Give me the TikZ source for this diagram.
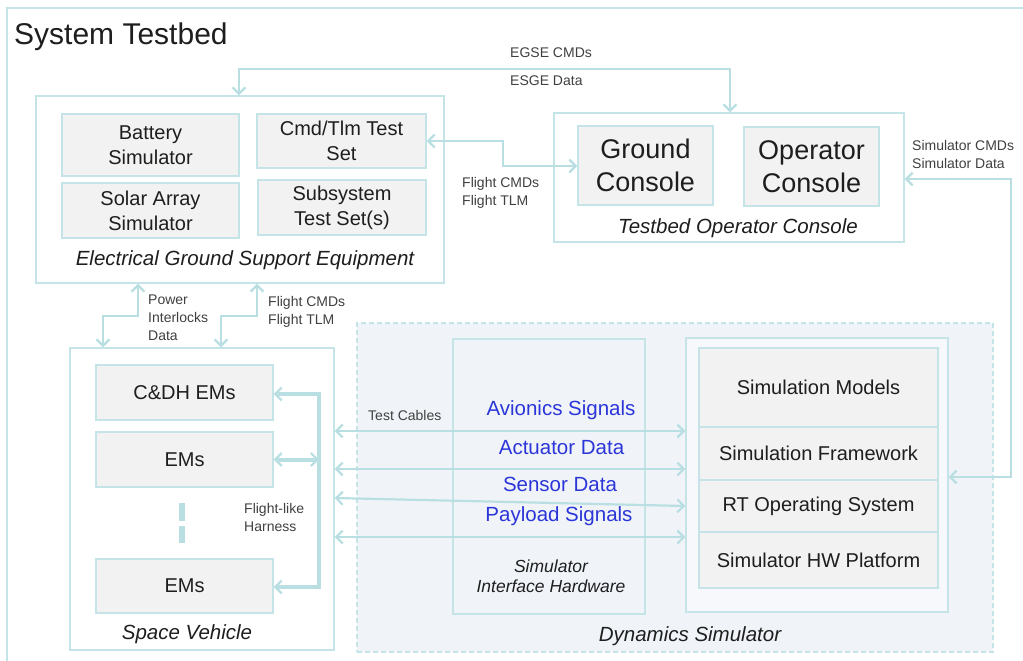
\documentclass[tikz,border=0pt]{standalone}
\usepackage{fontspec}
\setmainfont{Liberation Sans}
\usetikzlibrary{arrows.meta}
\definecolor{edge}{HTML}{C4E4E7}
\definecolor{wire}{HTML}{B9DFE2}
\definecolor{cellfill}{HTML}{F2F2F2}
\definecolor{dynfill}{HTML}{F0F4F9}
\definecolor{sigblue}{HTML}{2B35D8}
\definecolor{ink}{HTML}{1E1E1E}
\tikzset{
  barb/.tip={Straight Barb[length=6.5pt,width=13pt,line width=2.2pt]},
  group/.style={draw=edge,line width=1.3pt,fill=white,inner sep=0pt},
  cell/.style={draw=edge,line width=1.3pt,fill=cellfill,inner sep=0pt,align=center,
    font=\fontsize{20}{25}\selectfont,text=ink},
  bigcell/.style={cell,font=\fontsize{27}{33}\selectfont},
  stackcell/.style={cell,minimum width=239pt},
  caption/.style={font=\fontsize{20.5}{24}\selectfont\itshape,text=ink},
  note/.style={font=\fontsize{14}{18}\selectfont,text=ink!85,align=left,anchor=west,inner sep=0pt},
  signal/.style={font=\fontsize{20.5}{24}\selectfont,text=sigblue,inner sep=0pt},
  link/.style={draw=wire,line width=2.2pt,barb-barb},
  harness/.style={draw=wire,line width=4pt},
  harnessshade/.style={draw=black,opacity=0.10,line width=4.5pt,shift={(1.5,1.8)}},
}
\begin{document}
\begin{tikzpicture}[x=1pt,y=-1pt]
\useasboundingbox (0,0) rectangle (1023,661);
\fill[white] (0,0) rectangle (1023,661);

% outer testbed frame
\draw[edge,line width=1.3pt] (1040,8) -- (7,8) -- (7,680);
\node[anchor=base west,inner sep=0pt,font=\fontsize{30}{35}\selectfont,text=ink] (title) at (14,45) {System Testbed};

% electrical ground support equipment
\node[group,minimum width=408pt,minimum height=187pt] (egse) at (240,189.5) {};
\node[cell,minimum width=177pt,minimum height=62pt] (bat) at (150.5,145) {Battery\\Simulator};
\node[cell,minimum width=177pt,minimum height=55pt] (solar) at (150.5,210.5) {Solar Array\\Simulator};
\node[cell,minimum width=169pt,minimum height=54pt] (cmd) at (341.5,141) {Cmd/Tlm Test\\Set};
\node[cell,minimum width=168pt,minimum height=55pt] (subs) at (342,207.5) {Subsystem\\Test Set(s)};
\node[caption] (egsecap) at (245,260) {Electrical Ground Support Equipment};

% testbed operator console
\node[group,minimum width=350pt,minimum height=129pt] (toc) at (729,177.5) {};
\node[bigcell,minimum width=135pt,minimum height=79pt] (ground) at (645.5,165.5) {Ground\\Console};
\node[bigcell,minimum width=135pt,minimum height=79pt] (oper) at (811.5,166.5) {Operator\\Console};
\node[caption] (toccap) at (738,228) {Testbed Operator Console};

% dynamics simulator
\node[draw=edge,line width=1.3pt,dash pattern=on 5pt off 3pt,fill=dynfill,minimum width=636pt,minimum height=329pt,inner sep=0pt] (dyn) at (675,487.5) {};
\node[caption] (dyncap) at (690,636) {Dynamics Simulator};
\node[draw=edge,line width=1.3pt,fill=dynfill,minimum width=192pt,minimum height=275pt,inner sep=0pt] (sih) at (549,476.5) {};
\node[caption,font=\fontsize{17.5}{20}\selectfont\itshape,align=center] (sihcap) at (551,576) {Simulator\\Interface Hardware};
\node[draw=edge,line width=1.3pt,fill=dynfill!60!white,minimum width=262pt,minimum height=274pt,inner sep=0pt] (simbox) at (817,475) {};
\node[stackcell,minimum height=79pt] (models) at (818.5,387.5) {Simulation Models};
\node[stackcell,minimum height=53pt] (frame) at (818.5,453.5) {Simulation Framework};
\node[stackcell,minimum height=52pt] (rtos) at (818.5,506) {RT Operating System};
\node[stackcell,minimum height=56pt] (hwp) at (818.5,560) {Simulator HW Platform};

% space vehicle
\node[group,minimum width=264pt,minimum height=302pt] (sv) at (202,499) {};
\node[cell,minimum width=177pt,minimum height=55pt] (cdh) at (184.5,392.5) {C\&DH EMs};
\node[cell,minimum width=177pt,minimum height=55pt] (em1) at (184.5,459.5) {EMs};
\node[cell,minimum width=177pt,minimum height=54pt] (em2) at (184.5,586) {EMs};
\node[caption] (svcap) at (187,634) {Space Vehicle};
\draw[wire,line width=6pt] (182,503) -- (182,521) (182,526) -- (182,543);

% flight-like harness inside the vehicle, with a soft offset shade
\coordinate (hTop) at (319,394);
\coordinate (hBot) at (319,587);
\draw[harnessshade] (hTop) -- (hBot);
\draw[harnessshade] (em2.east |- hBot) ++(8,0) -- (hBot);
\draw[harness,barb-barb] (cdh.east |- hTop) -- (hTop) -- (hBot) -- (em2.east |- hBot);
\draw[harness,barb-barb] (em1.east) -- (em1.east -| hTop);
\node[note] (harnesslbl) at (244,517) {Flight-like\\Harness};

% EGSE <-> operator console
\coordinate (eA) at (239,69);
\coordinate (eB) at (730,69);
\draw[link] (eA |- egse.north) -- (eA) -- (eB) -- (eB |- toc.north);
\node[note] (egsecmd) at (510,53) {EGSE CMDs};
\node[note] (egsedat) at (510,81) {ESGE Data};

% command/telemetry test set <-> ground console
\coordinate (fA) at (503,141);
\coordinate (fB) at (503,166);
\draw[link] (cmd.east) -- (fA) -- (fB) -- (fB -| ground.west);
\node[note] (flight1) at (462,193) {Flight CMDs\\Flight TLM};

% operator console <-> simulation computer
\coordinate (sA) at (1011,179);
\coordinate (sB) at (1011,477);
\draw[link] (sA -| toc.east) -- (sA) -- (sB) -- (sB -| simbox.east);
\node[note] (simlbl) at (912,154) {Simulator CMDs\\Simulator Data};

% EGSE <-> space vehicle
\coordinate (pA) at (138,316);
\coordinate (pB) at (103,316);
\draw[link] (pA |- egse.south) -- (pA) -- (pB) -- (pB |- sv.north);
\node[note] (powerlbl) at (148,318) {Power\\Interlocks\\Data};
\coordinate (qA) at (257,316);
\coordinate (qB) at (221,316);
\draw[link] (qA |- egse.south) -- (qA) -- (qB) -- (qB |- sv.north);
\node[note] (flight2) at (268,312) {Flight CMDs\\Flight TLM};

% test cables between vehicle and simulator
\coordinate (c1) at (0,431);
\coordinate (c2) at (0,469);
\coordinate (c3l) at (0,498);
\coordinate (c3r) at (0,506);
\coordinate (c4) at (0,537);
\draw[link] (c1 -| sv.east) -- (c1 -| simbox.west);
\draw[link] (c2 -| sv.east) -- (c2 -| simbox.west);
\draw[link] (c3l -| sv.east) -- (c3r -| simbox.west);
\draw[link] (c4 -| sv.east) -- (c4 -| simbox.west);
\node[note] (cablelbl) at (368,415) {Test Cables};

\node[signal] (avi) at (561,410) {Avionics Signals};
\node[signal] (act) at (561.5,448) {Actuator Data};
\node[signal] (sen) at (560,484) {Sensor Data};
\node[signal] (pay) at (559,516) {Payload Signals};
\end{tikzpicture}
\end{document}
